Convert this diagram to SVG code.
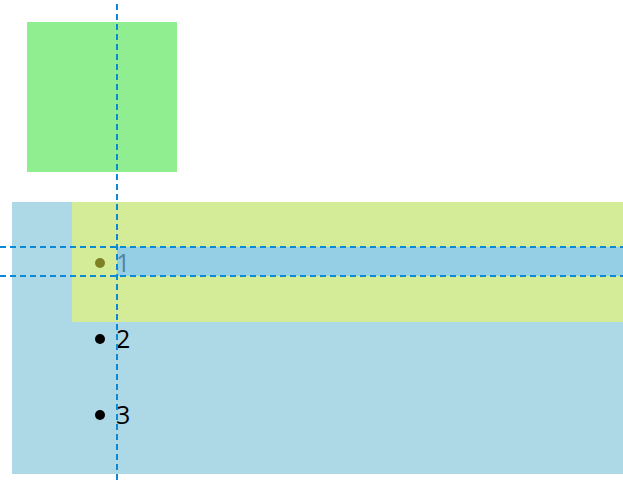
<svg xmlns="http://www.w3.org/2000/svg" width="623" height="483" viewBox="0 0 623 483">
<style>
.guide{stroke:#0a8ad6;stroke-width:2;stroke-dasharray:6 4;fill:none}
.lbl{font-family:"Open Sans","Noto Sans",sans-serif;font-size:25px;fill:#000}
</style>
<rect width="623" height="483" fill="#fff"/>
<g id="green-box"><rect x="27" y="22" width="150" height="150" fill="#90ee90"/></g>
<g id="blue-container"><rect x="12" y="202" width="611" height="272" fill="#add8e6"/></g>
<g id="item2"><circle cx="100" cy="339" r="5" fill="#000"/><text class="lbl" x="116" y="348">2</text></g>
<g id="item3"><circle cx="100" cy="415" r="5" fill="#000"/><text class="lbl" x="116" y="424">3</text></g>
<g id="item1"><circle cx="100" cy="263" r="5" fill="#000"/></g>
<g id="highlight"><rect x="72" y="202" width="551" height="120" fill="#fbff4a" opacity="0.5"/></g>
<g id="band"><rect x="117" y="247" width="506" height="29" fill="#94cfe6"/></g>
<g id="item1-label"><text class="lbl" x="116" y="272" style="fill:#5486a0">1</text></g>
<g id="guides">
<line class="guide" x1="117" y1="4" x2="117" y2="480"/>
<line class="guide" x1="0" y1="247" x2="623" y2="247"/>
<line class="guide" x1="0" y1="276" x2="623" y2="276"/>
</g>
</svg>
